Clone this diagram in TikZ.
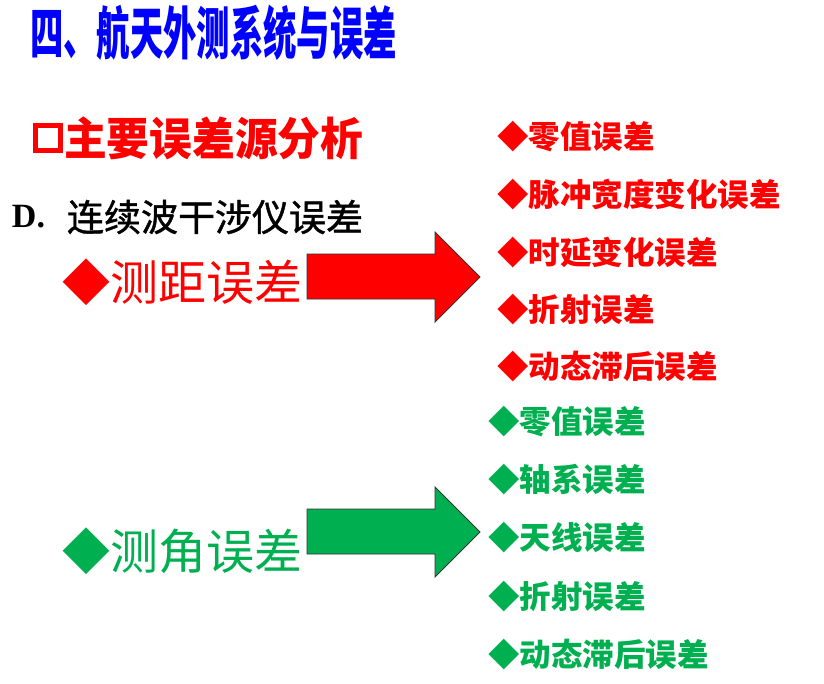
\documentclass[tikz,border=0pt]{standalone}
\usepackage{fontspec}
\setmainfont{Liberation Serif}
\newfontfamily\cjk{Noto Sans CJK SC}
\newfontfamily\cjkmed[FakeBold=1.2]{Noto Sans CJK SC}
\definecolor{ttlblue}{HTML}{0000FF}
\definecolor{errred}{HTML}{FF0000}
\definecolor{errgreen}{HTML}{00B050}
\tikzset{
  txt/.style={inner sep=0pt, outer sep=0pt, anchor=west},
  bigitem/.style={txt, font=\cjk\fontsize{48}{50}\selectfont},
  listitem/.style={txt, font=\cjk\bfseries\fontsize{31.5}{33}\selectfont},
  fatarrow/.style={draw=black!80, line width=0.8pt, line join=miter},
}
\begin{document}
\begin{tikzpicture}[x=1pt,y=-1pt]
\useasboundingbox (0,0) rectangle (824,683);
% title
\node[txt, text=ttlblue] (title) at (30,33)
  {\scalebox{0.585}[1]{\cjk\bfseries\fontsize{57}{59}\selectfont 四、航天外测系统与误差}};
% heading
\node[draw=errred, line width=5pt, minimum size=25pt, inner sep=0pt, anchor=west] (box) at (33,138) {};
\node[txt, text=errred] (head) at (64,138)
  {\scalebox{0.95}[1]{\cjk\bfseries\fontsize{45}{47}\selectfont 主要误差源分析}};
% D line
\node[txt] (dlbl) at (12,217) {\bfseries\fontsize{34}{36}\selectfont D.};
\node[txt] (dtext) at (67,217) {\cjkmed\fontsize{37}{39}\selectfont 连续波干涉仪误差};
% big items
\node[bigitem, text=errred] (range) at (62,282) {◆测距误差};
\node[bigitem, text=errgreen] (angle) at (62,551) {◆测角误差};
% arrows
\draw[fatarrow, fill=errred] (307,254) -- (435,254) -- (435,232) -- (480,277)
  -- (435,322) -- (435,299) -- (307,299) -- cycle;
\draw[fatarrow, fill=errgreen] (307,509) -- (435,509) -- (435,487) -- (480,532)
  -- (435,577) -- (435,554) -- (307,554) -- cycle;
% red list
\node[listitem, text=errred] (r1) at (497,137) {◆零值误差};
\node[listitem, text=errred] (r2) at (497,195) {◆脉冲宽度变化误差};
\node[listitem, text=errred] (r3) at (497,253) {◆时延变化误差};
\node[listitem, text=errred] (r4) at (497,310) {◆折射误差};
\node[listitem, text=errred] (r5) at (497,367) {◆动态滞后误差};
% green list
\node[listitem, text=errgreen] (g1) at (488,422) {◆零值误差};
\node[listitem, text=errgreen] (g2) at (488,480) {◆轴系误差};
\node[listitem, text=errgreen] (g3) at (488,538) {◆天线误差};
\node[listitem, text=errgreen] (g4) at (488,597) {◆折射误差};
\node[listitem, text=errgreen] (g5) at (488,655) {◆动态滞后误差};
\end{tikzpicture}
\end{document}
